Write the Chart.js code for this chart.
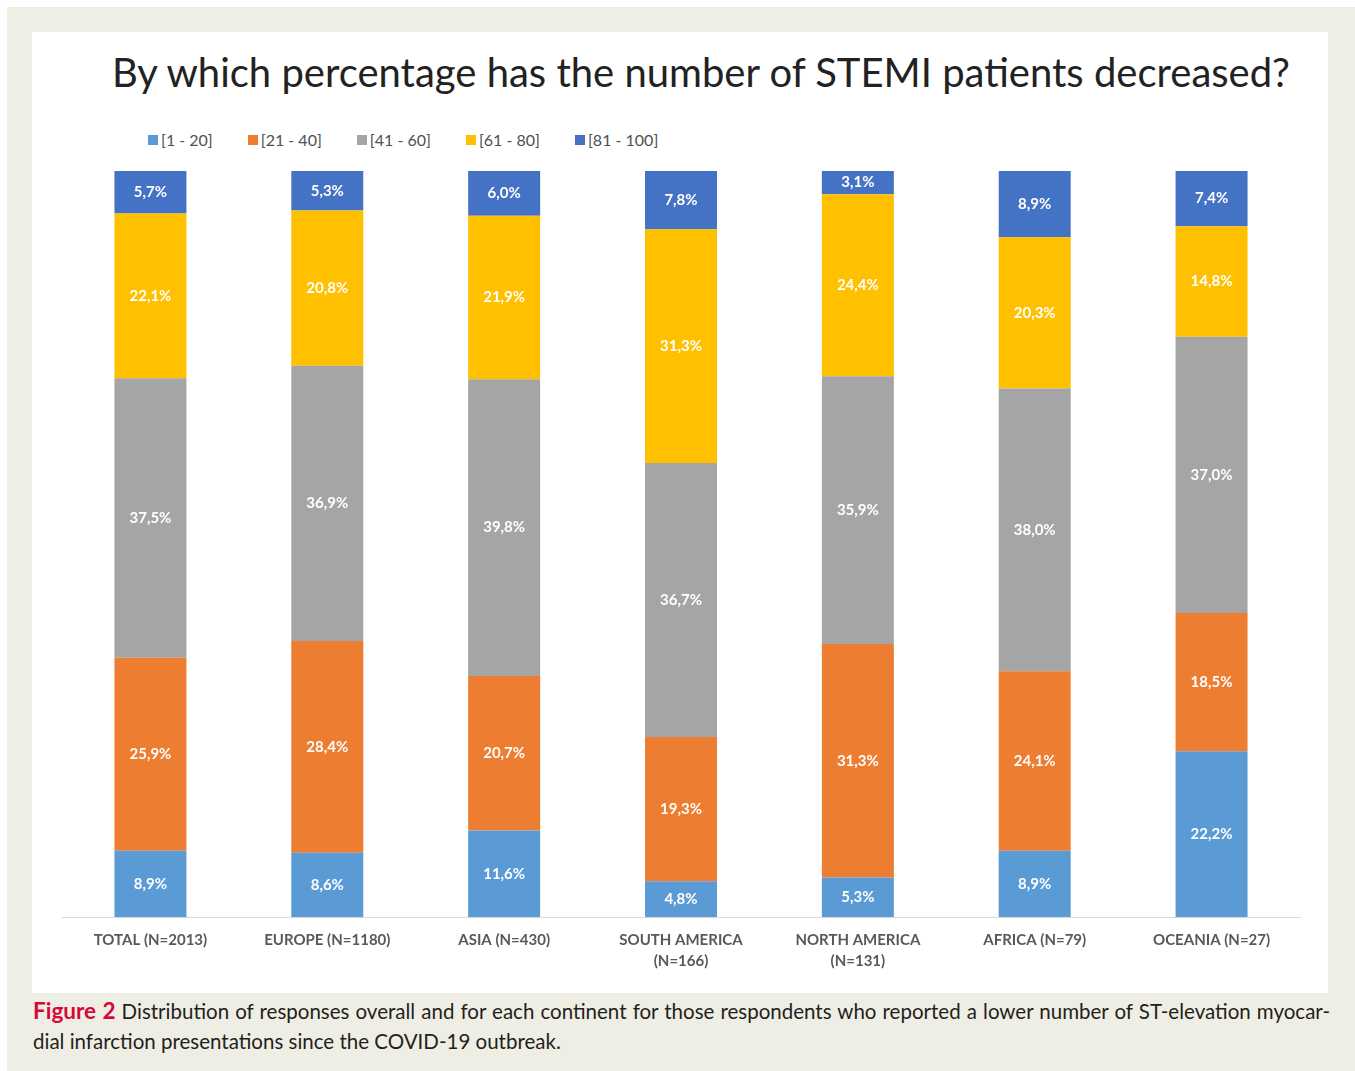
<!DOCTYPE html>
<html>
<head>
<meta charset="utf-8">
<script src="https://cdn.jsdelivr.net/npm/chart.js@4.4.0/dist/chart.umd.min.js"></script>
<style>
  html, body { margin: 0; padding: 0; background: #fff; }
  body { width: 1355px; height: 1071px; position: relative; overflow: hidden; font-family: Lato, sans-serif; }
  #frame { position: absolute; left: 7px; top: 7px; right: 0; bottom: 0; background: #efeee4; }
  #panel { position: absolute; left: 32px; top: 32px; width: 1296px; height: 961px; background: #fff; }
  #title { position: absolute; left: 21px; width: 1296px; top: 16px; text-align: center; font-size: 40px; color: #222; white-space: nowrap; }
  #legend { position: absolute; left: 116px; top: 98px; display: flex; gap: 35px; font-size: 16px; color: #505050; }
  #legend span { display: flex; align-items: center; }
  #legend i { display: inline-block; width: 10px; height: 10px; margin-right: 3px; }
  #chart { position: absolute; left: 0; top: 0; }
  #caption { position: absolute; left: 33px; top: 996px; width: 1297px; font-size: 20.5px; line-height: 30px; color: #231f20; }
  #caption .l1 { text-align: justify; text-align-last: justify; white-space: nowrap; }
  #caption b { color: #d6083b; font-size: 22.5px; }
</style>
</head>
<body>
<div id="frame"></div>
<div id="panel">
  <div id="title">By which percentage has the number of STEMI patients decreased?</div>
  <div id="legend"></div>
  <canvas id="chart" width="1296" height="961"></canvas>
</div>
<div id="caption">
  <div class="l1"><b>Figure 2</b> Distribution of responses overall and for each continent for those respondents who reported a lower number of ST-elevation myocar-</div>
  <div>dial infarction presentations since the COVID-19 outbreak.</div>
</div>
<script>
// Categories
const regions = [
    ['TOTAL (N=2013)'],
    ['EUROPE (N=1180)'],
    ['ASIA (N=430)'],
    ['SOUTH AMERICA', '(N=166)'],
    ['NORTH AMERICA', '(N=131)'],
    ['AFRICA (N=79)'],
    ['OCEANIA (N=27)']
];

// Series (percent of respondents per decrease range)
const range1to20   = [8.9, 8.6, 11.6, 4.8, 5.3, 8.9, 22.2];
const range21to40  = [25.9, 28.4, 20.7, 19.3, 31.3, 24.1, 18.5];
const range41to60  = [37.5, 36.9, 39.8, 36.7, 35.9, 38.0, 37.0];
const range61to80  = [22.1, 20.8, 21.9, 31.3, 24.4, 20.3, 14.8];
const range81to100 = [5.7, 5.3, 6.0, 7.8, 3.1, 8.9, 7.4];

const seriesNames = ['[1 - 20]', '[21 - 40]', '[41 - 60]', '[61 - 80]', '[81 - 100]'];
const seriesValues = [range1to20, range21to40, range41to60, range61to80, range81to100];
const colors = ['#5b9bd5', '#ed7d31', '#a5a5a5', '#ffc000', '#4472c4'];

// 100% stacked, like the original spreadsheet chart
const totals = regions.map((r, i) => seriesValues.reduce((s, arr) => s + arr[i], 0));

const datasets = seriesValues.map((vals, k) => ({
    label: seriesNames[k],
    data: vals.map((v, i) => v / totals[i] * 100),
    raw: vals,
    backgroundColor: colors[k],
    borderWidth: 0,
    categoryPercentage: 1,
    barPercentage: 0.407
}));

// html legend
const legend = document.getElementById('legend');
seriesNames.forEach((name, k) => {
    const s = document.createElement('span');
    s.innerHTML = `<i style="background:${colors[k]}"></i>${name}`;
    legend.appendChild(s);
});

// value labels in the middle of each segment
const barLabels = {
    id: 'barLabels',
    afterDatasetsDraw(chart) {
        const ctx = chart.ctx;
        ctx.save();
        ctx.font = 'bold 15px Lato';
        ctx.fillStyle = '#ffffff';
        ctx.textAlign = 'center';
        ctx.textBaseline = 'middle';
        chart.data.datasets.forEach((ds, k) => {
            chart.getDatasetMeta(k).data.forEach((bar, i) => {
                const txt = ds.raw[i].toFixed(1).replace('.', ',') + '%';
                ctx.fillText(txt, bar.x, (bar.y + bar.base) / 2);
            });
        });
        ctx.restore();
    }
};

const ctx = document.getElementById('chart').getContext('2d');
const myChart = new Chart(ctx, {
    type: 'bar',
    data: {
        labels: regions,
        datasets: datasets
    },
    options: {
        responsive: false,
        animation: false,
        layout: { padding: { left: 30, right: 28, top: 139, bottom: 8 } },
        plugins: {
            legend: { display: false },
            tooltip: { enabled: false }
        },
        scales: {
            x: {
                stacked: true,
                grid: { display: false, drawTicks: false },
                border: { color: '#d9d9d9', width: 1 },
                ticks: {
                    autoSkip: false,
                    maxRotation: 0,
                    padding: 13,
                    color: '#595959',
                    font: { family: 'Lato', size: 15, weight: 'bold', lineHeight: 1.4 }
                }
            },
            y: {
                stacked: true,
                display: false,
                min: 0,
                max: 100
            }
        }
    },
    plugins: [barLabels]
});
</script>
</body>
</html>
